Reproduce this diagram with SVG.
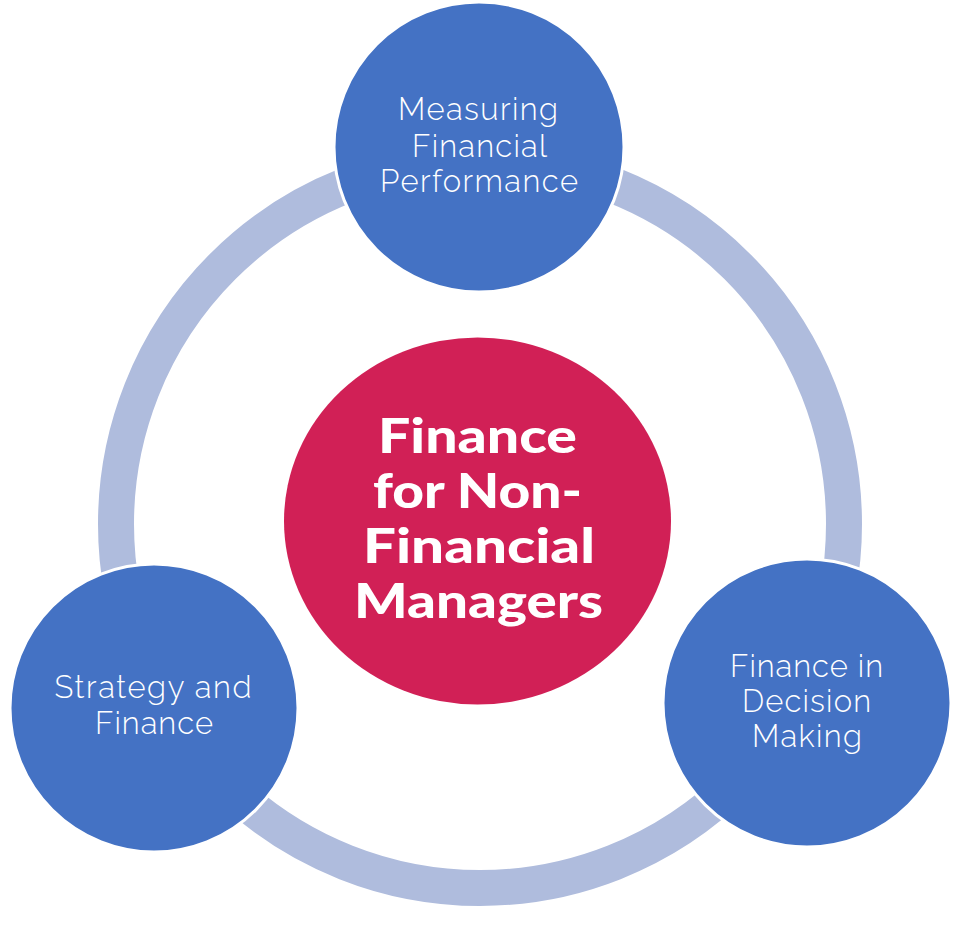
<svg xmlns="http://www.w3.org/2000/svg" width="959" height="942" viewBox="0 0 959 942">
<style>
.ring{fill:none;stroke:#AFBCDD;stroke-width:36}
.node{fill:#4472C4;stroke:#FFFFFF;stroke-width:3}
.core{fill:#D12056}
.lbl{font-family:Raleway,Lato,"Open Sans",sans-serif;font-weight:300;font-size:31px;fill:#FFFFFF;text-anchor:middle}
.big{font-family:Lato,"Open Sans",sans-serif;font-weight:900;font-size:48px;fill:#FFFFFF;text-anchor:middle}
</style>
<rect width="959" height="942" fill="#FFFFFF"/>
<g id="connectors">
<circle class="ring" cx="480" cy="524" r="364"/>
</g>
<g id="center">
<ellipse class="core" cx="477.5" cy="521" rx="193.5" ry="183.5"/>
<text class="big" x="477.5" y="453" textLength="199" lengthAdjust="spacingAndGlyphs">Finance</text>
<text class="big" x="477.5" y="508" textLength="209" lengthAdjust="spacingAndGlyphs">for Non-</text>
<text class="big" x="479" y="563" textLength="232" lengthAdjust="spacingAndGlyphs">Financial</text>
<text class="big" x="478.5" y="618" textLength="249" lengthAdjust="spacingAndGlyphs">Managers</text>
</g>
<g id="measuring">
<circle class="node" cx="479" cy="147" r="145"/>
<text class="lbl" x="478" y="120" textLength="160">Measuring</text>
<text class="lbl" x="479.5" y="157" textLength="135">Financial</text>
<text class="lbl" x="479" y="192" textLength="198">Performance</text>
</g>
<g id="strategy">
<circle class="node" cx="154" cy="708" r="144"/>
<text class="lbl" x="153" y="698" textLength="197">Strategy and</text>
<text class="lbl" x="154" y="734" textLength="118">Finance</text>
</g>
<g id="decision">
<circle class="node" cx="807" cy="703" r="144"/>
<text class="lbl" x="806.5" y="677" textLength="153">Finance in</text>
<text class="lbl" x="806.5" y="712" textLength="129">Decision</text>
<text class="lbl" x="807" y="747" textLength="110">Making</text>
</g>
</svg>
